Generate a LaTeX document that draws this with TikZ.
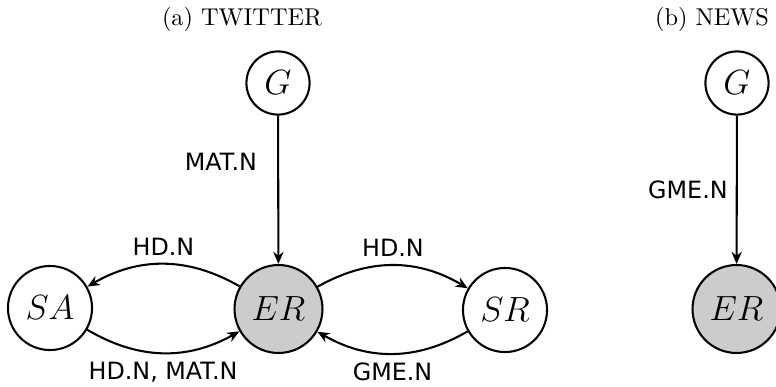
\documentclass[tikz,border=0pt]{standalone}
\usepackage{fontspec}
\setsansfont{DejaVu Sans}
\usetikzlibrary{arrows.meta}
\begin{document}
\begin{tikzpicture}[x=0.4115pt,y=0.4115pt,
  state/.style={circle,draw,line width=0.85pt,inner sep=0pt,font=\Large},
  smallstate/.style={state,minimum size=26pt},
  bigstate/.style={state,minimum size=34.6pt},
  evstate/.style={state,minimum size=36.2pt,fill=black!20},
  lbl/.style={font=\sffamily\fontsize{9.8}{12}\selectfont},
  arr/.style={-{Stealth[length=5pt,width=4.2pt]},line width=0.85pt},
  ttl/.style={font=\normalsize}]
\useasboundingbox (0,0) rectangle (776,386);
% titles
\node[ttl] (ta) at (242,367) {(a) TWITTER};
\node[ttl] (tb) at (712,367) {(b) NEWS};
% twitter
\node[smallstate] (G1) at (278,303) {$G$};
\node[evstate] (ER1) at (278.5,77) {$ER$};
\node[bigstate] (SA) at (50,78) {$SA$};
\node[bigstate] (SR) at (505,76) {$SR$};
% news
\node[smallstate] (G2) at (737,303) {$G$};
\node[evstate] (ER2) at (736.5,77) {$ER$};
% edges
\draw[arr] (G1) -- node[lbl,left=5pt,pos=0.31] {MAT.N} (ER1);
\draw[arr] (ER1) to[bend right=30] node[lbl,above] {HD.N} (SA);
\draw[arr] (SA) to[bend right=30] node[lbl,below] {HD.N, MAT.N} (ER1);
\draw[arr] (ER1) to[bend left=30] node[lbl,above] {HD.N} (SR);
\draw[arr] (SR) to[bend left=30] node[lbl,below] {GME.N} (ER1);
\draw[arr] (G2) -- node[lbl,left,pos=0.5] {GME.N} (ER2);
\end{tikzpicture}
\end{document}
